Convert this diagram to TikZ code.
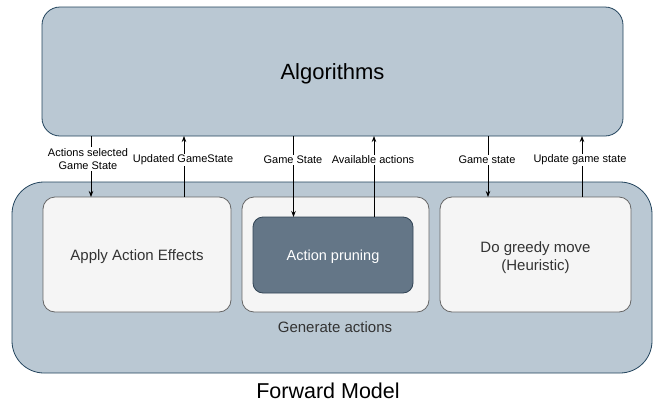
\documentclass[tikz,border=0pt]{standalone}
\usepackage{fontspec}
\setmainfont{Liberation Sans}
\usetikzlibrary{arrows.meta}
\definecolor{slatefill}{HTML}{BAC8D3}
\definecolor{slateline}{HTML}{23445D}
\definecolor{darkfill}{HTML}{647687}
\definecolor{darkline}{HTML}{314354}
\definecolor{paleFill}{HTML}{F5F5F5}
\definecolor{paleLine}{HTML}{666666}
\definecolor{txtgray}{HTML}{333333}
\tikzset{
  every node/.style={inner sep=0pt, outer sep=0pt},
  bigbox/.style={draw=slateline, fill=slatefill, line width=0.8pt, rectangle},
  panel/.style={draw=paleLine, fill=paleFill, line width=0.8pt, rectangle,
    rounded corners=12pt},
  paneltext/.style={text=txtgray, font=\fontsize{15}{18}\selectfont, align=center},
  darkbox/.style={draw=darkline, fill=darkfill, line width=0.8pt, rectangle,
    rounded corners=10pt},
  flow/.style={line width=0.8pt, draw=black, -{Stealth[length=6pt,width=4.5pt]}},
  lbl/.style={fill=white, inner sep=1.2pt, font=\fontsize{11}{13.5}\selectfont, align=center}
}
\begin{document}
\begin{tikzpicture}[x=1pt,y=-1pt]
\useasboundingbox (0,0) rectangle (654,405);
\fill[white] (0,0) rectangle (654,405);

% containers
\node[bigbox, rounded corners=18pt, minimum width=581pt, minimum height=129pt]
  (alg) at (332.5,71.5) {};
\node[font=\fontsize{22}{26}\selectfont] (algtitle) at (332.5,74) {Algorithms};
\node[bigbox, rounded corners=32pt, minimum width=640pt, minimum height=191pt]
  (fm) at (332,277.5) {};
\node[font=\fontsize{21.5}{26}\selectfont] (fmtitle) at (328,390.5) {Forward Model};

% forward model components
\node[panel, minimum width=188pt, minimum height=115pt] (apply) at (137,254.5) {};
\node[paneltext] (applytxt) at (137,257) {Apply Action Effects};
\node[panel, minimum width=187pt, minimum height=115pt] (gen) at (335.5,254.5) {};
\node[darkbox, minimum width=160pt, minimum height=76pt] (prune) at (333,255) {};
\node[paneltext, text=white, font=\fontsize{14.5}{18}\selectfont] (prunetxt)
  at (333,257) {Action pruning};
\node[panel, minimum width=191pt, minimum height=115pt] (greedy) at (535.5,254.5) {};
\node[paneltext] (greedytxt) at (535.5,257.5) {Do greedy move\\(Heuristic)};
\node[paneltext] (genlbl) at (335,327) {Generate actions};

% connector columns
\coordinate (k1) at (91,0);
\coordinate (k2) at (184,0);
\coordinate (k3) at (293.5,0);
\coordinate (k4) at (374,0);
\coordinate (k5) at (488,0);
\coordinate (k6) at (582,0);

\draw[flow] (k1 |- alg.south) -- (k1 |- apply.north);
\draw[flow] (k2 |- apply.north) -- (k2 |- alg.south);
\draw[flow] (k3 |- alg.south) -- (k3 |- prune.north);
\draw[flow] (k4 |- prune.north) -- (k4 |- alg.south);
\draw[flow] (k5 |- alg.south) -- (k5 |- greedy.north);
\draw[flow] (k6 |- greedy.north) -- (k6 |- alg.south);

\node[lbl] (l1) at (88,159) {Actions selected\\Game State};
\node[lbl] (l2) at (183,160) {Updated GameState};
\node[lbl] (l3) at (293,160) {Game State};
\node[lbl] (l4) at (373,160) {Available actions};
\node[lbl] (l5) at (487,160) {Game state};
\node[lbl] (l6) at (580,160) {Update game state};
\end{tikzpicture}
\end{document}
